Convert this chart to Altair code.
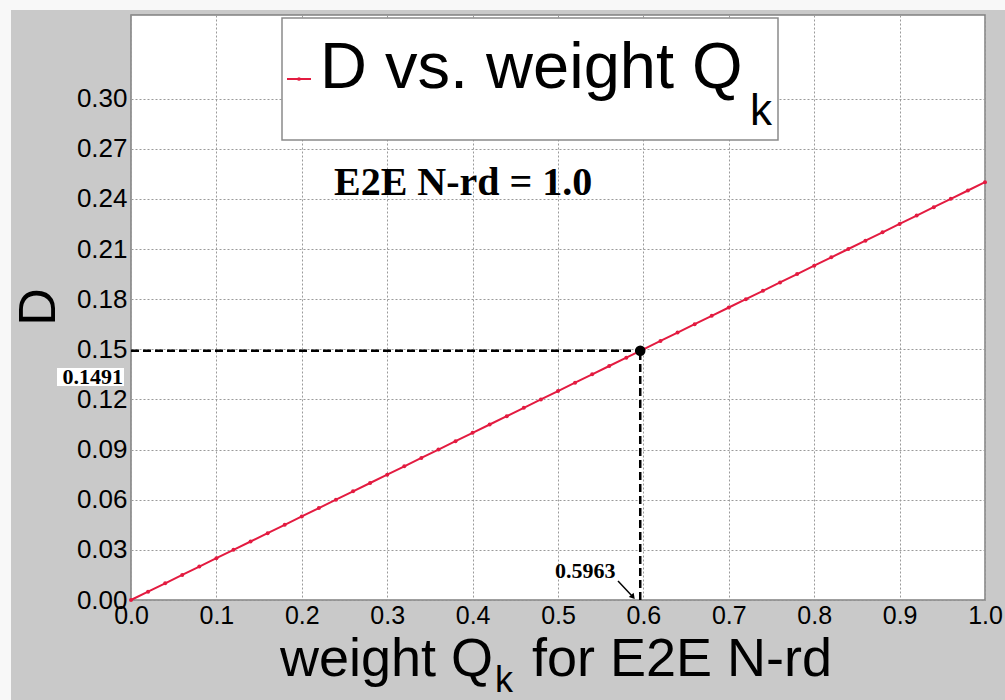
import altair as alt
import pandas as pd

# ---- data ----
Q = [0.00, 0.02, 0.04, 0.06, 0.08, 0.10, 0.12, 0.14, 0.16, 0.18, 0.20, 0.22, 0.24,
     0.26, 0.28, 0.30, 0.32, 0.34, 0.36, 0.38, 0.40, 0.42, 0.44, 0.46, 0.48, 0.50,
     0.52, 0.54, 0.56, 0.58, 0.60, 0.62, 0.64, 0.66, 0.68, 0.70, 0.72, 0.74, 0.76,
     0.78, 0.80, 0.82, 0.84, 0.86, 0.88, 0.90, 0.92, 0.94, 0.96, 0.98, 1.00]
D = [0.000, 0.005, 0.010, 0.015, 0.020, 0.025, 0.030, 0.035, 0.040, 0.045, 0.050,
     0.055, 0.060, 0.065, 0.070, 0.075, 0.080, 0.085, 0.090, 0.095, 0.100, 0.105,
     0.110, 0.115, 0.120, 0.125, 0.130, 0.135, 0.140, 0.145, 0.150, 0.155, 0.160,
     0.165, 0.170, 0.175, 0.180, 0.185, 0.190, 0.195, 0.200, 0.205, 0.210, 0.215,
     0.220, 0.225, 0.230, 0.235, 0.240, 0.245, 0.250]
MARK_Q = 0.5963
MARK_D = 0.1491
X_TICKS = [0.0, 0.1, 0.2, 0.3, 0.4, 0.5, 0.6, 0.7, 0.8, 0.9, 1.0]
Y_TICKS = [0.00, 0.03, 0.06, 0.09, 0.12, 0.15, 0.18, 0.21, 0.24, 0.27, 0.30]
LEGEND_TEXT = "D vs. weight Q"
SUB = "k"
NOTE = "E2E N-rd = 1.0"
XTITLE_A = "weight Q"
XTITLE_B = "for E2E N-rd"
YTITLE = "D"

W, H = 854, 585
RED = "#e31b40"

df = pd.DataFrame({"q": Q, "d": D})
one = pd.DataFrame({"a": [0]})
pt = pd.DataFrame({"q": [MARK_Q], "d": [MARK_D], "q0": [0.0], "d0": [0.0]})

xs = alt.Scale(domain=[0, 1], nice=False, zero=False)
ys = alt.Scale(domain=[0, 0.35], nice=False, zero=False)

xaxis = alt.Axis(values=X_TICKS, format=".1f", labelFontSize=25, labelFont="Liberation Sans",
                 labelColor="black", labelPadding=3, ticks=False, domain=False,
                 grid=True, gridColor="#9a9a9a", gridDash=[2, 2], gridWidth=1,
                 labelFlush=False, labelOverlap=False, title=None)
yaxis = alt.Axis(values=Y_TICKS, format=".2f", labelFontSize=26, labelFont="Liberation Sans",
                 labelColor="black", labelPadding=4, ticks=False, domain=False,
                 grid=True, gridColor="#9a9a9a", gridDash=[2, 2], gridWidth=1,
                 labelOverlap=False, title=None)


def X(field):
    return alt.X(field, type="quantitative", scale=xs, axis=xaxis)


def Y(field):
    return alt.Y(field, type="quantitative", scale=ys, axis=yaxis)


base = alt.Chart(one)

# white margin strips of the original figure
strips = alt.layer(
    base.mark_rect(color="#f8f8f8").encode(x=alt.value(-131), x2=alt.value(874),
                                           y=alt.value(-15), y2=alt.value(-5)),
    base.mark_rect(color="#f8f8f8").encode(x=alt.value(-131), x2=alt.value(-120),
                                           y=alt.value(-15), y2=alt.value(685)),
)

line = alt.Chart(df).mark_line(color=RED, strokeWidth=2).encode(x=X("q"), y=Y("d"))
pts = alt.Chart(df).mark_point(color=RED, filled=True, size=16, opacity=1).encode(
    x=X("q"), y=Y("d"))

hrule = alt.Chart(pt).mark_rule(color="black", strokeWidth=2.5, strokeDash=[8, 4]).encode(
    x=X("q0"), x2="q:Q", y=Y("d"))
vrule = alt.Chart(pt).mark_rule(color="black", strokeWidth=2.5, strokeDash=[8, 4]).encode(
    x=X("q"), y=Y("d0"), y2="d:Q")
dot = alt.Chart(pt).mark_point(color="black", filled=True, size=110, opacity=1).encode(
    x=X("q"), y=Y("d"))

# legend box
legend = alt.layer(
    base.mark_rect(fill="white", stroke="#8a8a8a", strokeWidth=1.5).encode(
        x=alt.value(151), x2=alt.value(647), y=alt.value(3), y2=alt.value(125)),
    base.mark_rule(color=RED, strokeWidth=2).encode(
        x=alt.value(156), x2=alt.value(180), y=alt.value(64)),
    base.mark_point(color=RED, filled=True, size=14, opacity=1).encode(
        x=alt.value(168), y=alt.value(64)),
    base.mark_text(text=LEGEND_TEXT, fontSize=65, font="Liberation Sans", align="left",
                   baseline="alphabetic", color="black").encode(
        x=alt.value(189), y=alt.value(73)),
    base.mark_text(text=SUB, fontSize=44, font="Liberation Sans", align="left",
                   baseline="alphabetic", color="black").encode(
        x=alt.value(619), y=alt.value(110)),
)

note = base.mark_text(text=NOTE, fontSize=40, font="Liberation Serif", fontWeight="bold",
                      align="left", baseline="alphabetic", color="black").encode(
    x=alt.value(203), y=alt.value(180))

# value annotations
ann = alt.layer(
    base.mark_rect(color="white").encode(x=alt.value(-74), x2=alt.value(-7),
                                         y=alt.value(353), y2=alt.value(371)),
    base.mark_text(text=f"{MARK_D:.4f}", fontSize=22, font="Liberation Serif", fontWeight="bold",
                   align="right", baseline="alphabetic", color="black").encode(
        x=alt.value(-8), y=alt.value(369)),
    base.mark_text(text=f"{MARK_Q:.4f}", fontSize=22, font="Liberation Serif", fontWeight="bold",
                   align="left", baseline="alphabetic", color="black").encode(
        x=alt.value(424), y=alt.value(563)),
    base.mark_rule(color="black", strokeWidth=1.5).encode(
        x=alt.value(487), y=alt.value(566), x2=alt.value(502), y2=alt.value(582)),
    base.mark_point(shape="triangle-down", color="black", filled=True, size=40, opacity=1,
                    angle=320).encode(x=alt.value(502), y=alt.value(582)),
)

titles = alt.layer(
    base.mark_text(text=XTITLE_A, fontSize=54, font="Liberation Sans", align="left",
                   baseline="alphabetic", color="black").encode(
        x=alt.value(149), y=alt.value(661)),
    base.mark_text(text=SUB, fontSize=36, font="Liberation Sans", align="left",
                   baseline="alphabetic", color="black").encode(
        x=alt.value(364), y=alt.value(677)),
    base.mark_text(text=XTITLE_B, fontSize=54, font="Liberation Sans", align="left",
                   baseline="alphabetic", color="black").encode(
        x=alt.value(401), y=alt.value(661)),
    base.mark_text(text=YTITLE, fontSize=52, font="Liberation Sans", align="center",
                   baseline="middle", color="black", angle=270).encode(
        x=alt.value(-92), y=alt.value(292)),
)

chart = alt.layer(
    strips, legend, line, pts, hrule, vrule, dot, note, ann, titles
).properties(
    width=W, height=H,
    padding={"left": 131, "top": 15, "right": 20, "bottom": 100},
    autosize=alt.AutoSizeParams(type="none"),
    background="#c9c9c9",
).configure_view(
    fill="white", stroke="#808080", strokeWidth=1.5,
)

chart.save("out.html", embed_options={"renderer": "svg", "actions": False})
